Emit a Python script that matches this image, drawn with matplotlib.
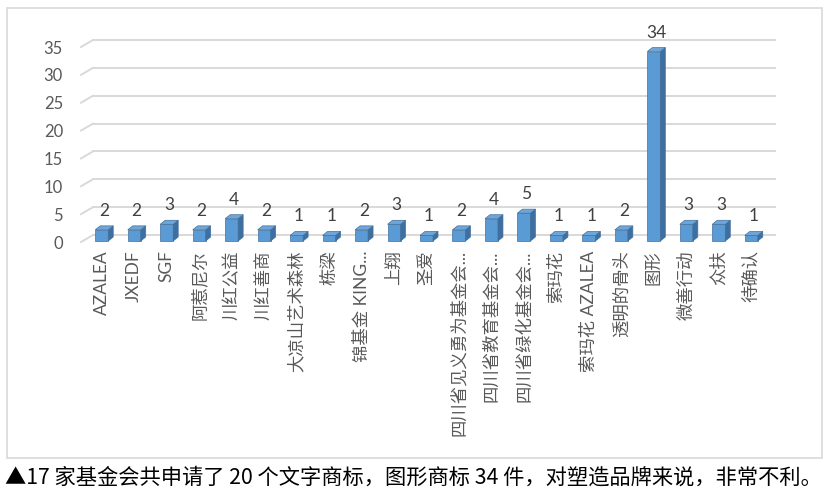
import numpy as np
import matplotlib.pyplot as plt
from matplotlib.patches import Polygon, Rectangle

categories = ["AZALEA", "JXEDF", "SGF", "阿惹尼尔", "川红公益", "川红善商", "大凉山艺术森林",
              "栋梁", "锦基金 KING...", "上翔", "圣爱", "四川省见义勇为基金会...",
              "四川省教育基金会...", "四川省绿化基金会...", "索玛花", "索玛花 AZALEA",
              "透明的骨头", "图形", "微善行动", "众扶", "待确认"]
counts = [2, 2, 3, 2, 4, 2, 1, 1, 2, 3, 1, 2, 4, 5, 1, 1, 2, 34, 3, 3, 1]
yticks = [0, 5, 10, 15, 20, 25, 30, 35]
caption = "▲17 家基金会共申请了 20 个文字商标，图形商标 34 件，对塑造品牌来说，非常不利。"

plt.rcParams['font.family'] = ['Lato', 'Noto Sans CJK SC', 'DejaVu Sans']

W, H = 830, 491
fig = plt.figure(figsize=(W / 100, H / 100), dpi=100)

# outer chart border
fig.patches.append(Rectangle((7 / W, (H - 458) / H), 815 / W, 450 / H,
                             transform=fig.transFigure, fill=False,
                             ec="#D9D9D9", lw=1.2))

# front plane of the 3d plot area
left, right, y0, y35 = 81, 763, 242, 47
ax = fig.add_axes([left / W, (H - y0) / H, (right - left) / W, (y0 - y35) / H])
n = len(categories)
ax.set_xlim(-0.5, n - 0.5)
ax.set_ylim(0, 35)
for s in ax.spines.values():
    s.set_visible(False)

pxx = (right - left) / n      # pixels per x unit
pxy = (y0 - y35) / 35         # pixels per y unit

# back wall gridlines with the little left wall diagonal
gx, gy = 12 / pxx, 7 / pxy
for t in yticks:
    ax.plot([-0.5 + gx, n - 0.5 + gx], [t + gy, t + gy], color="#D9D9D9",
            lw=1.4, clip_on=False, zorder=1)
    ax.plot([-0.5, -0.5 + gx], [t, t + gy], color="#D9D9D9", lw=1.4,
            clip_on=False, zorder=1)

# 3d columns
bx, by = 4.5 / pxx, 1.0 / pxy     # front face offset
dx, dy = 5 / pxx, 4 / pxy         # column depth
w = 13 / pxx
front_c, side_c, top_c, edge_c = "#5B9BD5", "#3F6FA0", "#6FA6DA", "#41719C"
xs = np.arange(n) + bx
ax.bar(xs, counts, width=w, bottom=by, color=front_c, edgecolor=edge_c,
       linewidth=0.5, zorder=3, clip_on=False)
for x, v in zip(xs, counts):
    xl, xr, top = x - w / 2, x + w / 2, by + v
    ax.add_patch(Polygon([(xr, by), (xr + dx, by + dy), (xr + dx, top + dy), (xr, top)],
                         closed=True, fc=side_c, ec=edge_c, lw=0.5, zorder=3, clip_on=False))
    ax.add_patch(Polygon([(xl, top), (xl + dx, top + dy), (xr + dx, top + dy), (xr, top)],
                         closed=True, fc=top_c, ec=edge_c, lw=0.5, zorder=3, clip_on=False))
    ax.annotate(str(v), (x + dx / 2, top + dy), xytext=(0, 7), textcoords="offset pixels",
                ha="center", va="bottom", fontsize=12.5, color="#404040")

ax.set_yticks(yticks)
ax.set_yticklabels([str(t) for t in yticks], fontsize=12, color="#595959")
ax.set_xticks(xs)
ax.set_xticklabels(categories, rotation=90, fontsize=12.5, color="#595959")
ax.tick_params(axis="y", length=0, pad=13)
ax.tick_params(axis="x", length=0, pad=6)

fig.text(5 / W, (H - 478) / H, caption, ha="left", va="center", fontsize=15.3,
         color="black", family=['Noto Sans CJK SC', 'DejaVu Sans'])

fig.savefig("out.png", dpi=100)
